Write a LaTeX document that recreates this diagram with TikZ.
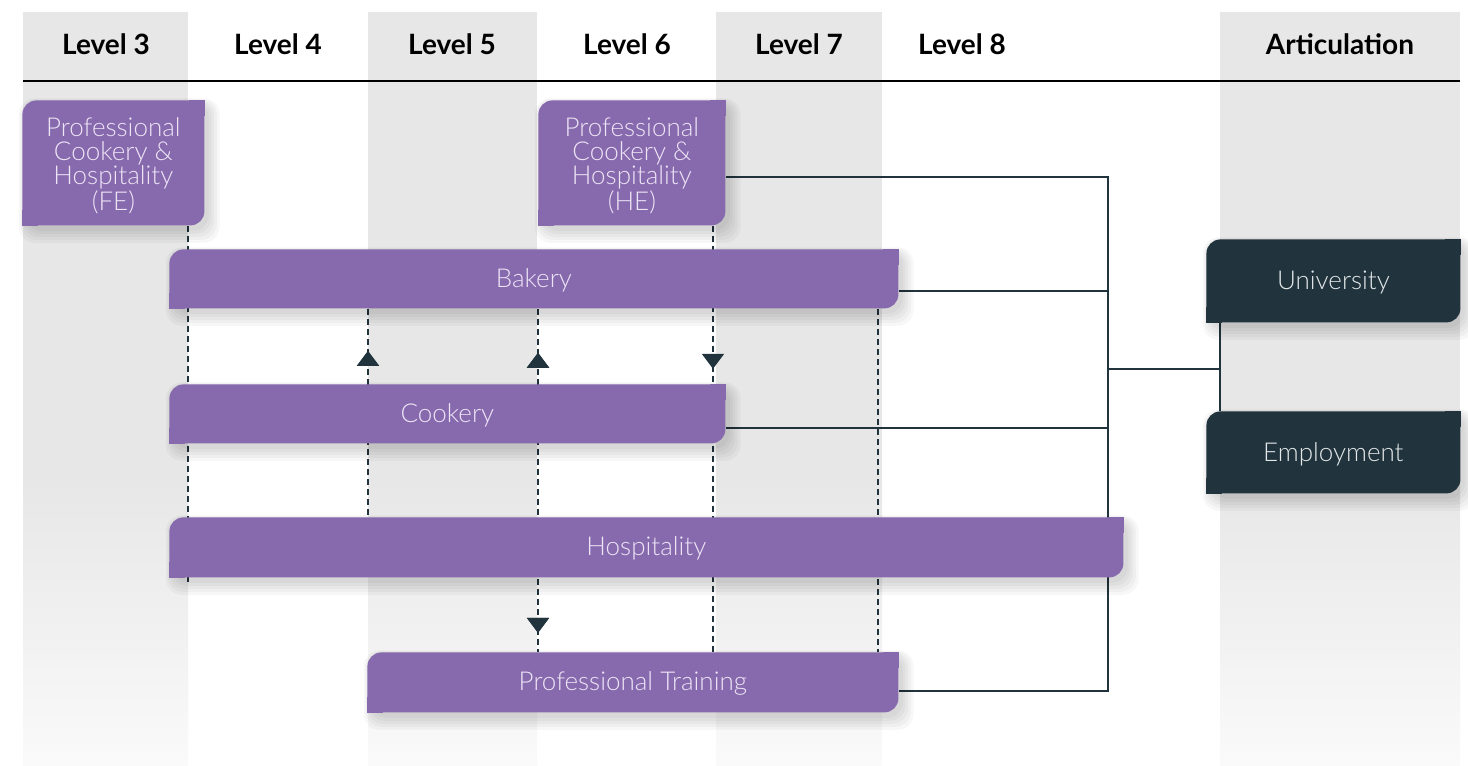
\documentclass[tikz,border=0pt]{standalone}
\usepackage{fontspec}
\setmainfont{Lato}
\newfontfamily\lightfont{Lato Light}
\usetikzlibrary{decorations.markings,arrows.meta,calc}
\definecolor{boxpurple}{HTML}{876AAD}
\definecolor{darkslate}{HTML}{21333C}
\definecolor{bandgray}{HTML}{E7E7E7}
\definecolor{fadegray}{HTML}{FAFAFA}
\definecolor{lavtext}{HTML}{EDE4F6}
\definecolor{paletext}{HTML}{E3E8EA}
\pgfdeclarelayer{bands}
\pgfdeclarelayer{links}
\pgfdeclarelayer{shadow}
\pgfsetlayers{bands,links,shadow,main}
\tikzset{
  boxfont/.style={font=\lightfont\fontsize{13}{12}\selectfont},
  boxbase/.style={rectangle, rounded corners=7pt, inner sep=0pt, anchor=north west,
    align=center, boxfont},
  pbox/.style={boxbase, fill=boxpurple, text=lavtext},
  dbox/.style={boxbase, fill=darkslate, text=paletext},
  boxlabel/.style={boxfont, text=lavtext, align=center, inner sep=0pt, yshift=-1.5pt},
  header/.style={font=\bfseries\fontsize{14}{16}\selectfont, text=black},
  conn/.style={darkslate, line width=1pt},
  dashline/.style={darkslate, line width=1pt, dash pattern=on 3pt off 2pt},
  shadowpiece/.style={fill=black, fill opacity=0.03, rounded corners=8pt},
  tipdown/.style={postaction={decorate}, decoration={markings,
    mark=at position #1 with {\arrow[darkslate]{Triangle[width=11pt,length=7.5pt]}}}},
  tipup/.style={postaction={decorate}, decoration={markings,
    mark=at position #1 with {\arrow[darkslate]{Triangle[width=11pt,length=7.5pt,reversed]}}}},
}
\begin{document}
\begin{tikzpicture}[x=0.5pt, y=-0.5pt]
\useasboundingbox (0,0) rectangle (1468,766);

% column bands
\begin{pgfonlayer}{bands}
\fill[white] (0,0) rectangle (1468,766);
\foreach \a/\b in {23/188, 368/537, 716/882, 1220/1460} {
  \fill[bandgray] (\a,12) rectangle (\b,481);
  \shade[top color=bandgray, bottom color=fadegray] (\a,480) rectangle (\b,766);
}
\draw[black, line width=0.6pt] (23,81) -- (1460,81);
\end{pgfonlayer}

% headers
\node[header] (h3) at (106,44) {Level 3};
\node[header] (h4) at (278,44) {Level 4};
\node[header] (h5) at (452,44) {Level 5};
\node[header] (h6) at (627,44) {Level 6};
\node[header] (h7) at (799,44) {Level 7};
\node[header] (h8) at (962,44) {Level 8};
\node[header] (hart) at (1340,44) {Articulation};

% boxes
\node[pbox, minimum width=91pt, minimum height=62.5pt,
  label={[boxlabel]center:{Professional\\Cookery \&\\Hospitality\\(FE)}}] (fe) at (22,100) {};
\node[pbox, minimum width=93.5pt, minimum height=62.5pt,
  label={[boxlabel]center:{Professional\\Cookery \&\\Hospitality\\(HE)}}] (he) at (538,100) {};
\node[pbox, minimum width=364.5pt, minimum height=29.5pt, text depth=1pt] (bak) at (169,249) {Bakery};
\node[pbox, minimum width=278pt, minimum height=29.5pt, text depth=1pt] (cook) at (169,384) {Cookery};
\node[pbox, minimum width=477pt, minimum height=30pt, text depth=1pt] (hosp) at (169,517) {Hospitality};
\node[pbox, minimum width=265.5pt, minimum height=30pt, text depth=1pt] (pt) at (367,652) {Professional Training};
\node[dbox, minimum width=127pt, minimum height=41.5pt, text depth=0.5pt] (uni) at (1206,239) {University};
\node[dbox, minimum width=127pt, minimum height=41pt, text depth=0.5pt] (emp) at (1206,411) {Employment};

% square the top-right and bottom-left corners
\foreach \n in {fe,he,bak,cook,hosp,pt} {
  \fill[boxpurple] (\n.north east) rectangle ++(-8pt,-8pt);
  \fill[boxpurple] (\n.south west) rectangle ++(8pt,8pt);
}
\foreach \n in {uni,emp} {
  \fill[darkslate] (\n.north east) rectangle ++(-8pt,-8pt);
  \fill[darkslate] (\n.south west) rectangle ++(8pt,8pt);
}

% soft shadows
\begin{pgfonlayer}{shadow}
\foreach \n in {fe,he,bak,cook,hosp,pt,uni,emp} {
  \foreach \k in {0,1.5,3,4.5,6} {
    \fill[shadowpiece] ($(\n.north west)+(2pt-\k pt*0.6,-1pt+\k pt*0.3)$)
      rectangle ($(\n.south east)+(2pt+\k pt*0.9,-2.5pt-\k pt)$);
  }
}
\end{pgfonlayer}

% guide coordinates
\coordinate (x188) at (188,0);
\coordinate (x368) at (368,0);
\coordinate (x538) at (538,0);
\coordinate (x713) at (713,0);
\coordinate (x878) at (878,0);
\coordinate (trtop) at (1108,177);
\coordinate (trbak) at (1108,291);
\coordinate (trmid) at (1108,369);
\coordinate (trcook) at (1108,428);
\coordinate (trbot) at (1108,691);
\coordinate (artmid) at (1220,369);

\begin{pgfonlayer}{links}
% dashed progression lines
\draw[dashline] (fe.south -| x188) -- ($(hosp.south -| x188)+(0,4)$);
\draw[dashline, tipup=28.5pt] (bak.south -| x368) -- (hosp.north -| x368);
\draw[dashline, tipup=29.5pt, tipdown=162pt] (bak.south -| x538) -- (pt.north -| x538);
\draw[dashline, tipdown=71.5pt] (he.south -| x713) -- (pt.north -| x713);
\draw[dashline] (bak.south -| x878) -- (pt.north -| x878);
% solid articulation connectors
\draw[conn] (he.east |- trtop) -- (trtop) -- (trbot) -- (pt.east |- trbot);
\draw[conn] (bak.east |- trbak) -- (trbak);
\draw[conn] (cook.east |- trcook) -- (trcook);
\draw[conn] (trmid) -- (artmid);
\draw[conn] (uni.south -| artmid) -- (emp.north -| artmid);
\end{pgfonlayer}
\end{tikzpicture}
\end{document}
